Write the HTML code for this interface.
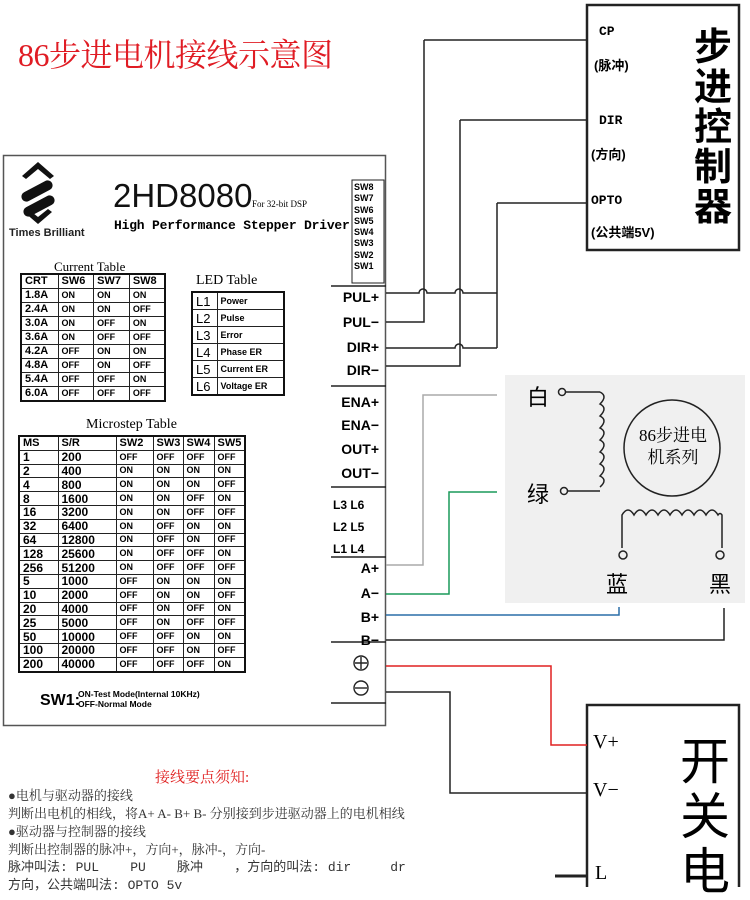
<!DOCTYPE html>
<html><head><meta charset="utf-8"><style>
body{margin:0;width:750px;height:887px;overflow:hidden;background:#fff;position:relative;font-family:"Liberation Sans","Noto Sans CJK SC",sans-serif}
.a{position:absolute}
table{border-collapse:collapse;table-layout:fixed;position:absolute;border:2px solid #111}
td{border:1px solid #222;padding:0 0 0 3px;font-weight:bold;overflow:hidden;white-space:nowrap;line-height:1}
.ct td{font-size:9px;height:13px}
.ct tr:first-child td{font-size:11px}
.ct td:first-child{font-size:11px}
.ms td{font-size:9px;height:12.8px}
.ms td:nth-child(-n+2){font-size:12px}
.ms tr:first-child td{font-size:11px}
.led td{font-size:9px;height:16px}
.led td:first-child{font-size:13px;font-weight:normal}
.ser{font-family:"Liberation Serif","Noto Serif CJK SC",serif}
.term{position:absolute;left:331px;width:48px;text-align:right;font-weight:bold;font-size:14px;line-height:1}
.cn{font-family:"Liberation Serif","Noto Serif CJK SC",serif;font-size:13px;color:#333;left:8px;white-space:nowrap}
</style></head><body>
<div class="a ser" style="left:18px;top:30px;font-size:32px;color:#e01c24;letter-spacing:-0.5px">86步进电机接线示意图</div>

<svg class="a" style="left:0;top:0" width="750" height="887">
<g fill="none" stroke="#222" stroke-width="1.5">
<rect x="3.5" y="155.5" width="382" height="570" stroke="#555"/>
<rect x="352" y="180" width="32" height="103" stroke-width="1"/>
<line x1="331" y1="286" x2="386" y2="286"/>
<line x1="331" y1="386" x2="386" y2="386"/>
<line x1="331" y1="487" x2="386" y2="487"/>
<line x1="331" y1="557" x2="386" y2="557"/>
<line x1="331" y1="642" x2="386" y2="642"/>
<line x1="331" y1="703" x2="386" y2="703"/>
<path d="M424 40H586M460 120H586M497 203H586"/>
<path d="M424 40V322H386M460 120V366H386M497 203V348"/>
<path d="M386 293H419A4 4 0 0 1 427 293H455A4 4 0 0 1 463 293H497"/>
<path d="M386 348H455A4 4 0 0 1 463 348H497"/>
<rect x="587" y="5" width="152" height="245" stroke-width="2.5"/>
<rect x="587" y="705" width="152" height="200" stroke-width="2.5"/>
</g>
<path d="M38 162L22 176L26 179L38 169L50 179L54 176Z" fill="#111"/>
<rect x="20" y="186" width="34" height="10" rx="5" transform="rotate(-28 37 191)" fill="#111"/>
<rect x="22" y="201" width="34" height="10" rx="5" transform="rotate(-28 39 206)" fill="#111"/>
<path d="M24 212L38 224L52 212L48 209L38 217L28 209Z" fill="#111"/>
<rect x="505" y="375" width="240" height="228" fill="#f0f0f0"/>
<g fill="none" stroke="#222" stroke-width="1.5">
<circle cx="562" cy="392" r="3.5"/><circle cx="564" cy="491" r="3.5"/>
<path d="M566 392H600 M568 491H600"/>
<path d="M600 392q8 4 0 12q8 4 0 12q8 4 0 12q8 4 0 12q8 4 0 12q8 4 0 12q8 4 0 12q8 4 0 11"/>
<circle cx="672" cy="448" r="48"/>
<path d="M622 548V515q6-10 12 0q6-10 12 0q6-10 12 0q6-10 12 0q6-10 12 0q6-10 12 0q6-10 12 0q6-10 12 0q2-3 4 0V548"/>
<circle cx="623" cy="555" r="4"/><circle cx="720" cy="555" r="4"/>
</g>
<g fill="none" stroke-width="1.5">
<path d="M386 565H423V395H497" stroke="#aaa"/>
<path d="M386 594H449V492H497" stroke="#1a9a5a"/>
<path d="M386 615H619V607" stroke="#2a6fa8"/>
<path d="M386 640H724V608" stroke="#222"/>
<path d="M386 666H551V745H587" stroke="#e02020"/>
<path d="M386 692H450V793H587" stroke="#222"/>
<path d="M555 876H587" stroke="#222" stroke-width="3"/>
</g>
<g fill="none" stroke="#222" stroke-width="1.4">
<circle cx="361" cy="663" r="7"/><path d="M355 663h12M361 657v12"/>
<circle cx="361" cy="688" r="7"/><path d="M355 688h12"/>
</g>
</svg>

<div class="a" style="left:9px;top:227px;font-size:11px;font-weight:bold;color:#222">Times Brilliant</div>
<div class="a" style="left:113px;top:177px;font-size:33px;color:#111">2HD8080</div>
<div class="a ser" style="left:252px;top:199px;font-size:9px">For 32-bit DSP</div>
<div class="a" style="left:114px;top:218px;font-size:13px;font-weight:bold;font-family:'Liberation Mono',monospace;letter-spacing:-0.2px">High Performance Stepper Driver</div>
<div class="a" style="left:354px;top:182px;font-size:9px;line-height:11.3px;font-weight:bold">SW8<br>SW7<br>SW6<br>SW5<br>SW4<br>SW3<br>SW2<br>SW1</div>

<div class="a ser" style="left:54px;top:259px;font-size:13px">Current Table</div>
<table class="ct" style="left:20px;top:273px;width:146px">
<col style="width:37px"><col><col><col>
<tr><td>CRT</td><td>SW6</td><td>SW7</td><td>SW8</td></tr>
<tr><td>1.8A</td><td>ON</td><td>ON</td><td>ON</td></tr>
<tr><td>2.4A</td><td>ON</td><td>ON</td><td>OFF</td></tr>
<tr><td>3.0A</td><td>ON</td><td>OFF</td><td>ON</td></tr>
<tr><td>3.6A</td><td>ON</td><td>OFF</td><td>OFF</td></tr>
<tr><td>4.2A</td><td>OFF</td><td>ON</td><td>ON</td></tr>
<tr><td>4.8A</td><td>OFF</td><td>ON</td><td>OFF</td></tr>
<tr><td>5.4A</td><td>OFF</td><td>OFF</td><td>ON</td></tr>
<tr><td>6.0A</td><td>OFF</td><td>OFF</td><td>OFF</td></tr>
</table>

<div class="a ser" style="left:196px;top:273px;font-size:14px">LED Table</div>
<table class="led" style="left:191px;top:291px;width:94px">
<col style="width:25px"><col>
<tr><td>L1</td><td>Power</td></tr><tr><td>L2</td><td>Pulse</td></tr><tr><td>L3</td><td>Error</td></tr>
<tr><td>L4</td><td>Phase ER</td></tr><tr><td>L5</td><td>Current ER</td></tr><tr><td>L6</td><td>Voltage ER</td></tr>
</table>

<div class="a ser" style="left:86px;top:417px;font-size:14px">Microstep Table</div>
<table class="ms" style="left:18px;top:435px;width:228px">
<col style="width:39px"><col style="width:58px"><col style="width:37px"><col style="width:30px"><col style="width:31px"><col>
<tr><td>MS</td><td>S/R</td><td>SW2</td><td>SW3</td><td>SW4</td><td>SW5</td></tr>
<tr><td>1</td><td>200</td><td>OFF</td><td>OFF</td><td>OFF</td><td>OFF</td></tr>
<tr><td>2</td><td>400</td><td>ON</td><td>ON</td><td>ON</td><td>ON</td></tr>
<tr><td>4</td><td>800</td><td>ON</td><td>ON</td><td>ON</td><td>OFF</td></tr>
<tr><td>8</td><td>1600</td><td>ON</td><td>ON</td><td>OFF</td><td>ON</td></tr>
<tr><td>16</td><td>3200</td><td>ON</td><td>ON</td><td>OFF</td><td>OFF</td></tr>
<tr><td>32</td><td>6400</td><td>ON</td><td>OFF</td><td>ON</td><td>ON</td></tr>
<tr><td>64</td><td>12800</td><td>ON</td><td>OFF</td><td>ON</td><td>OFF</td></tr>
<tr><td>128</td><td>25600</td><td>ON</td><td>OFF</td><td>OFF</td><td>ON</td></tr>
<tr><td>256</td><td>51200</td><td>ON</td><td>OFF</td><td>OFF</td><td>OFF</td></tr>
<tr><td>5</td><td>1000</td><td>OFF</td><td>ON</td><td>ON</td><td>ON</td></tr>
<tr><td>10</td><td>2000</td><td>OFF</td><td>ON</td><td>ON</td><td>OFF</td></tr>
<tr><td>20</td><td>4000</td><td>OFF</td><td>ON</td><td>OFF</td><td>ON</td></tr>
<tr><td>25</td><td>5000</td><td>OFF</td><td>ON</td><td>OFF</td><td>OFF</td></tr>
<tr><td>50</td><td>10000</td><td>OFF</td><td>OFF</td><td>ON</td><td>ON</td></tr>
<tr><td>100</td><td>20000</td><td>OFF</td><td>OFF</td><td>ON</td><td>OFF</td></tr>
<tr><td>200</td><td>40000</td><td>OFF</td><td>OFF</td><td>OFF</td><td>ON</td></tr>
</table>
<div class="a" style="left:40px;top:692px;font-size:16px;font-weight:bold">SW1:</div>
<div class="a" style="left:78px;top:689px;font-size:8.5px;font-weight:bold;line-height:10px">ON-Test Mode(Internal 10KHz)<br>OFF-Normal Mode</div>

<div class="term" style="top:290px">PUL+</div>
<div class="term" style="top:315px">PUL−</div>
<div class="term" style="top:340px">DIR+</div>
<div class="term" style="top:363px">DIR−</div>
<div class="term" style="top:395px">ENA+</div>
<div class="term" style="top:418px">ENA−</div>
<div class="term" style="top:442px">OUT+</div>
<div class="term" style="top:466px">OUT−</div>
<div class="a" style="left:333px;top:494px;font-size:12px;font-weight:bold;line-height:22px">L3 L6<br>L2 L5<br>L1 L4</div>
<div class="term" style="top:561px">A+</div>
<div class="term" style="top:586px">A−</div>
<div class="term" style="top:610px">B+</div>
<div class="term" style="top:633px">B−</div>

<div class="a" style="left:599px;top:25px;font-size:13px;font-weight:bold;font-family:'Liberation Mono','Noto Sans CJK SC',monospace;line-height:1">CP</div>
<div class="a" style="left:594px;top:55px;font-size:13px;font-weight:bold">(脉冲)</div>
<div class="a" style="left:599px;top:113px;font-size:13px;font-weight:bold;font-family:'Liberation Mono',monospace">DIR</div>
<div class="a" style="left:591px;top:144px;font-size:13px;font-weight:bold">(方向)</div>
<div class="a" style="left:591px;top:193px;font-size:13px;font-weight:bold;font-family:'Liberation Mono',monospace">OPTO</div>
<div class="a" style="left:591px;top:222px;font-size:13px;font-weight:bold">(公共端5V)</div>
<div class="a" style="left:694px;top:28px;font-size:38px;font-weight:bold;line-height:40px;width:42px">步进控制器</div>

<div class="a" style="left:527px;top:380px;font-size:22px">白</div>
<div class="a" style="left:527px;top:477px;font-size:22px">绿</div>
<div class="a ser" style="left:624px;top:425px;font-size:17px;line-height:22px;text-align:center;width:98px">86步进电<br>机系列</div>
<div class="a" style="left:606px;top:567px;font-size:22px">蓝</div>
<div class="a" style="left:709px;top:567px;font-size:22px">黑</div>

<div class="a" style="left:593px;top:731px;font-size:20px;font-family:'Liberation Serif',serif">V+</div>
<div class="a" style="left:593px;top:779px;font-size:20px;font-family:'Liberation Serif',serif">V−</div>
<div class="a" style="left:595px;top:862px;font-size:20px;font-family:'Liberation Serif',serif">L</div>
<div class="a" style="left:680px;top:735px;font-size:50px;line-height:55px;width:55px">开关电</div>

<div class="a ser" style="left:155px;top:766px;font-size:15px;color:#e02020">接线要点须知:</div>
<div class="a cn" style="top:785px">●电机与驱动器的接线</div>
<div class="a cn" style="top:803px">判断出电机的相线，将A+ A- B+ B- 分别接到步进驱动器上的电机相线</div>
<div class="a cn" style="top:821px">●驱动器与控制器的接线</div>
<div class="a cn" style="top:839px">判断出控制器的脉冲+，方向+，脉冲-，方向-</div>
<div class="a cn" style="top:856px;font-family:'Liberation Mono','Noto Sans CJK SC',monospace">脉冲叫法: PUL&nbsp;&nbsp;&nbsp;&nbsp;PU&nbsp;&nbsp;&nbsp;&nbsp;脉冲&nbsp;&nbsp;&nbsp;&nbsp;，方向的叫法: dir&nbsp;&nbsp;&nbsp;&nbsp;&nbsp;dr</div>
<div class="a cn" style="top:874px;font-family:'Liberation Mono','Noto Sans CJK SC',monospace">方向，公共端叫法: OPTO 5v</div>
</body></html>
